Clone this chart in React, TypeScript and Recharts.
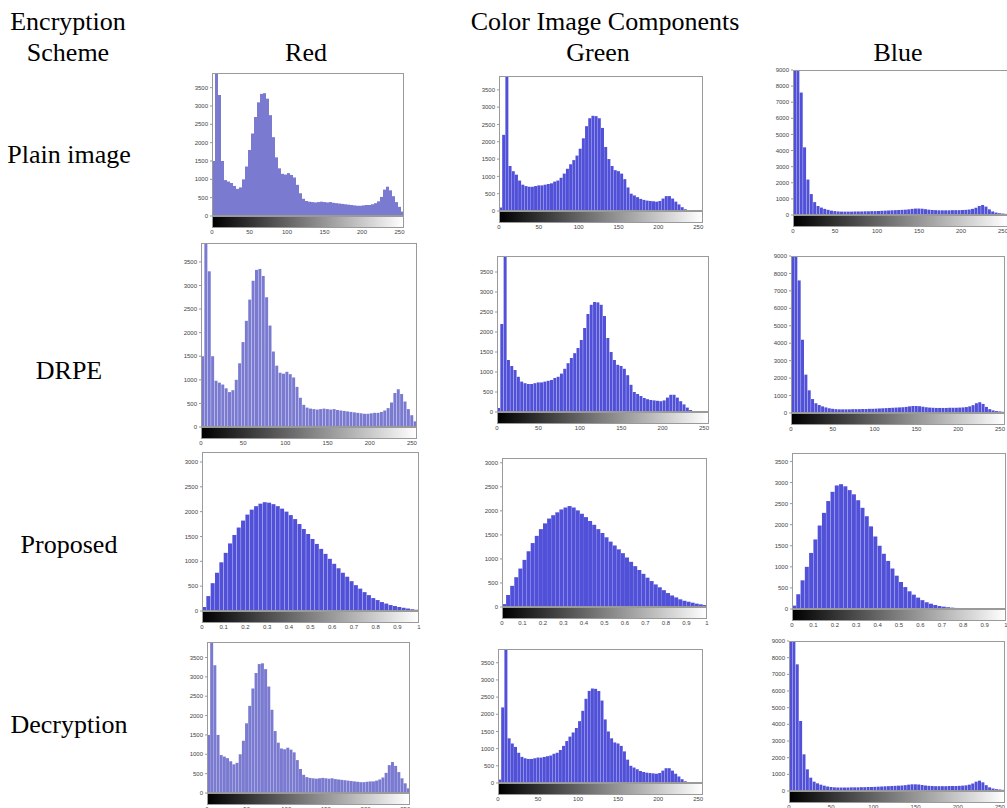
import React from 'react';
import { BarChart, Bar, XAxis, YAxis } from 'recharts';

// intensity bins: 64 bins of 4 grey levels (centres), and 50 bins of 0.02 on [0, 1]
const GRAY_BINS = Array.from({ length: 64 }, (_, i) => i * 4 + 2);
const UNIT_BINS = Array.from({ length: 50 }, (_, i) => Math.round((i * 0.02 + 0.01) * 100) / 100);

const GRAY_TICKS = [0, 50, 100, 150, 200, 250];
const UNIT_TICKS = [0, 0.1, 0.2, 0.3, 0.4, 0.5, 0.6, 0.7, 0.8, 0.9, 1];
const TICKS_3500 = [0, 500, 1000, 1500, 2000, 2500, 3000, 3500];
const TICKS_3000 = [0, 500, 1000, 1500, 2000, 2500, 3000];
const TICKS_9000 = [0, 1000, 2000, 3000, 4000, 5000, 6000, 7000, 8000, 9000];

// plain / DRPE / decrypted image histograms (counts per bin)
const redCounts = [
  1500, 4300, 3300, 1500, 980, 940, 900, 820, 740, 780, 1000, 1350, 1800, 2250, 2700, 3100,
  3330, 3350, 3200, 2750, 2150, 1600, 1300, 1150, 1130, 1170, 1120, 1050, 850, 620, 470, 410,
  390, 380, 370, 380, 390, 380, 370, 380, 360, 350, 340, 330, 320, 310, 300, 290,
  280, 280, 290, 300, 300, 320, 350, 400, 520, 720, 800, 700, 540, 380, 250, 120,
];
const greenCounts = [
  100, 2200, 4200, 1300, 1150, 1050, 880, 760, 720, 700, 700, 720, 740, 740, 760, 780,
  800, 850, 880, 960, 1080, 1220, 1350, 1470, 1600, 1800, 2100, 2450, 2680, 2750, 2740, 2680,
  2400, 1850, 1500, 1300, 1180, 1150, 1080, 920, 680, 500, 450, 400, 350, 320, 300, 290,
  280, 270, 290, 360, 430, 430, 360, 270, 190, 110, 50, 25, 15, 10, 10, 5,
];
const blueCounts = [
  9800, 9600, 7600, 4200, 2200, 1300, 800, 560, 460, 380, 320, 270, 240, 220, 210, 210,
  210, 210, 220, 220, 220, 230, 230, 240, 240, 250, 260, 270, 280, 290, 300, 310,
  320, 330, 350, 380, 400, 400, 390, 360, 330, 310, 300, 290, 290, 290, 290, 300,
  300, 300, 310, 320, 340, 380, 450, 560, 620, 520, 350, 220, 150, 110, 90, 70,
];

// proposed scheme histograms
const redProposed = [
  80, 300, 560, 770, 980, 1170, 1360, 1530, 1680, 1820, 1940, 2040, 2110, 2160, 2190, 2180,
  2150, 2110, 2060, 2000, 1930, 1850, 1750, 1650, 1550, 1450, 1350, 1250, 1150, 1050, 950, 860,
  770, 690, 600, 520, 450, 380, 320, 260, 220, 180, 150, 120, 100, 80, 65, 50, 35, 25,
];
const greenProposed = [
  60, 250, 440, 620, 800, 980, 1160, 1330, 1480, 1620, 1740, 1840, 1910, 1970, 2030, 2070,
  2100, 2070, 2010, 1940, 1870, 1790, 1710, 1620, 1540, 1450, 1360, 1280, 1200, 1120, 1030, 940,
  850, 770, 690, 610, 540, 470, 410, 350, 290, 240, 200, 160, 130, 110, 90, 70, 55, 40,
];
const blueProposed = [
  80, 350, 680, 1000, 1330, 1650, 1980, 2280, 2560, 2780, 2930, 2960, 2910, 2820, 2720, 2580,
  2400, 2200, 1960, 1720, 1500, 1310, 1140, 960, 790, 640, 520, 420, 340, 270, 210, 160,
  125, 95, 70, 55, 42, 32, 25, 20, 16, 13, 11, 9, 8, 7, 6, 5, 4, 3,
];

const RED_FILL = '#7a7bd0';
const BLUE_FILL = '#5050d8';
const SERIF = '"Liberation Serif", "Times New Roman", serif';
const SANS = '"Liberation Sans", Arial, sans-serif';

const fmtUnit = (v: number) => String(Math.round(v * 10) / 10);

type PanelProps = {
  x: number; y: number; w: number; h: number;
  bins: number[]; counts: number[];
  yMax: number; yTicks: number[];
  unit?: boolean; color: string;
};

function Histogram({ x, y, w, h, bins, counts, yMax, yTicks, unit, color }: PanelProps) {
  const ML = 26, MT = 4, MR = 4, XH = 24;
  const data = bins.map((b, i) => ({ level: b, count: counts[i] }));
  const W = w + ML + MR;
  const H = h + MT + XH;
  const tickStyle = { fontSize: 6, fill: '#444', fontFamily: SANS };
  return (
    <div style={{ position: 'absolute', left: x - ML, top: y - MT, width: W, height: H }}>
      <BarChart width={W} height={H} data={data} margin={{ top: MT, right: MR, left: 0, bottom: 0 }} barCategoryGap={0}>
        <XAxis
          dataKey="level"
          type="number"
          domain={unit ? [0, 1] : [0, 256]}
          ticks={unit ? UNIT_TICKS : GRAY_TICKS}
          tickFormatter={unit ? fmtUnit : undefined}
          allowDataOverflow
          interval={0}
          height={XH}
          axisLine={false}
          tickLine={false}
          tickSize={0}
          tickMargin={14}
          tick={tickStyle}
        />
        <YAxis
          width={ML}
          domain={[0, yMax]}
          ticks={yTicks}
          allowDataOverflow
          interval={0}
          axisLine={false}
          tickSize={2}
          tickMargin={2}
          tickLine={{ stroke: '#999' }}
          tick={tickStyle}
        />
        <Bar dataKey="count" fill={color} isAnimationActive={false} />
      </BarChart>
      <div
        style={{
          position: 'absolute', left: ML, top: MT, width: w, height: h,
          border: '1px solid #9a9a9a', boxSizing: 'border-box', pointerEvents: 'none',
        }}
      />
      <div
        style={{
          position: 'absolute', left: ML, top: MT + h, width: w, height: 12,
          background: 'linear-gradient(to right, #000, #fff)',
          border: '1px solid #9a9a9a', boxSizing: 'border-box',
        }}
      />
    </div>
  );
}

const headers = [
  { text: 'Encryption', x: 68, y: 30 },
  { text: 'Color Image Components', x: 605, y: 30 },
  { text: 'Scheme', x: 68, y: 61 },
  { text: 'Red', x: 306, y: 61 },
  { text: 'Green', x: 598, y: 61 },
  { text: 'Blue', x: 898, y: 61 },
];
const rowLabels = [
  { text: 'Plain image', y: 163 },
  { text: 'DRPE', y: 379 },
  { text: 'Proposed', y: 553 },
  { text: 'Decryption', y: 733 },
];

export default function App() {
  return (
    <div style={{ position: 'absolute', left: 0, top: 0, width: 1007, height: 808, overflow: 'hidden', background: '#fff' }}>
      <svg width={1007} height={808} style={{ position: 'absolute', left: 0, top: 0 }}>
        {headers.map((t) => (
          <text key={t.text} x={t.x} y={t.y} textAnchor="middle" fontFamily={SERIF} fontSize={26} fill="#000">{t.text}</text>
        ))}
        {rowLabels.map((t) => (
          <text key={t.text} x={69} y={t.y} textAnchor="middle" fontFamily={SERIF} fontSize={26} fill="#000">{t.text}</text>
        ))}
      </svg>

      {/* plain image */}
      <Histogram x={212} y={73} w={192} h={143} bins={GRAY_BINS} counts={redCounts} yMax={3900} yTicks={TICKS_3500} color={RED_FILL} />
      <Histogram x={499} y={76} w={204} h={135} bins={GRAY_BINS} counts={greenCounts} yMax={3900} yTicks={TICKS_3500} color={BLUE_FILL} />
      <Histogram x={793} y={70} w={215} h={145} bins={GRAY_BINS} counts={blueCounts} yMax={9000} yTicks={TICKS_9000} color={BLUE_FILL} />

      {/* DRPE */}
      <Histogram x={201} y={243} w={216} h={184} bins={GRAY_BINS} counts={redCounts} yMax={3900} yTicks={TICKS_3500} color={RED_FILL} />
      <Histogram x={497} y={256} w={212} h={156} bins={GRAY_BINS} counts={greenCounts} yMax={3900} yTicks={TICKS_3500} color={BLUE_FILL} />
      <Histogram x={791} y={256} w={214} h={157} bins={GRAY_BINS} counts={blueCounts} yMax={9000} yTicks={TICKS_9000} color={BLUE_FILL} />

      {/* proposed */}
      <Histogram x={202} y={452} w={217} h={159} bins={UNIT_BINS} counts={redProposed} yMax={3200} yTicks={TICKS_3000} unit color={BLUE_FILL} />
      <Histogram x={502} y={458} w={205} h={149} bins={UNIT_BINS} counts={greenProposed} yMax={3100} yTicks={TICKS_3000} unit color={BLUE_FILL} />
      <Histogram x={792} y={453} w={214} h={156} bins={UNIT_BINS} counts={blueProposed} yMax={3700} yTicks={TICKS_3500} unit color={BLUE_FILL} />

      {/* decryption */}
      <Histogram x={207} y={642} w={203} h={151} bins={GRAY_BINS} counts={redCounts} yMax={3900} yTicks={TICKS_3500} color={RED_FILL} />
      <Histogram x={498} y={649} w={205} h={134} bins={GRAY_BINS} counts={greenCounts} yMax={3900} yTicks={TICKS_3500} color={BLUE_FILL} />
      <Histogram x={789} y={641} w={216} h={150} bins={GRAY_BINS} counts={blueCounts} yMax={9000} yTicks={TICKS_9000} color={BLUE_FILL} />
    </div>
  );
}
